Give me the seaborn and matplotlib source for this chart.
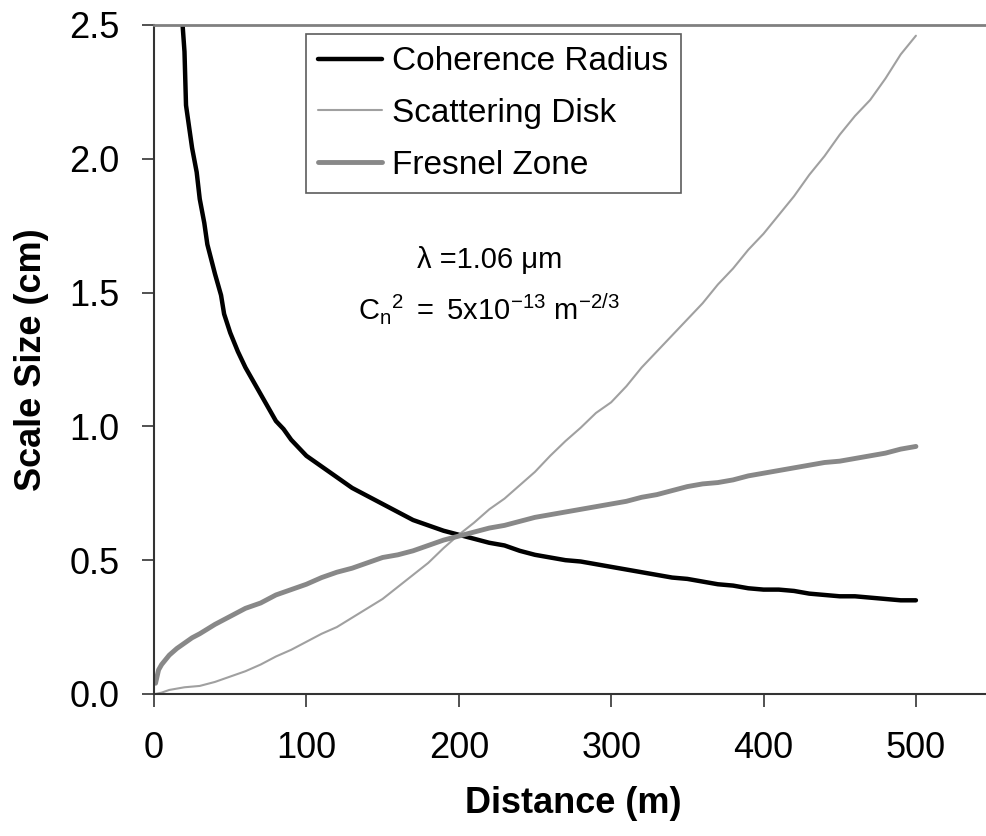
import numpy as np
import pandas as pd
from matplotlib import pyplot as plt
import seaborn as sns

# Coherence radius (cm) vs distance (m)
coh_dist = [18.5, 20, 21, 25, 28, 30, 33, 35, 40, 44, 46, 50, 55, 60, 70, 80, 85, 90, 95,
            100, 105, 110, 120, 130, 140, 150, 160, 170, 175, 180, 190, 200, 210, 220,
            230, 240, 250, 260, 270, 280, 290, 300, 310, 320, 330, 340, 350, 360, 370,
            380, 390, 400, 410, 420, 430, 440, 450, 460, 470, 480, 490, 500]
coh_size = [2.52, 2.40, 2.20, 2.04, 1.95, 1.85, 1.76, 1.68, 1.57, 1.49, 1.42, 1.35, 1.28,
            1.22, 1.12, 1.02, 0.99, 0.95, 0.92, 0.89, 0.87, 0.85, 0.81, 0.77, 0.74, 0.71,
            0.68, 0.65, 0.64, 0.63, 0.61, 0.595, 0.58, 0.565, 0.555, 0.535, 0.52, 0.51,
            0.50, 0.495, 0.485, 0.475, 0.465, 0.455, 0.445, 0.435, 0.43, 0.42, 0.41,
            0.405, 0.395, 0.39, 0.39, 0.385, 0.375, 0.37, 0.365, 0.365, 0.36, 0.355,
            0.35, 0.35]

# Scattering disk
sc_dist = [1, 5, 10, 15, 20, 30, 40, 50, 60, 70, 80, 90, 100, 110, 120, 130, 140, 150,
           160, 170, 180, 190, 200, 210, 220, 230, 240, 250, 260, 270, 280, 290, 300,
           310, 320, 330, 340, 350, 360, 370, 380, 390, 400, 410, 420, 430, 440, 450,
           460, 470, 480, 490, 500]
sc_size = [0.0, 0.005, 0.015, 0.02, 0.025, 0.03, 0.045, 0.065, 0.085, 0.11, 0.14, 0.165,
           0.195, 0.225, 0.25, 0.285, 0.32, 0.355, 0.40, 0.445, 0.49, 0.545, 0.595, 0.64,
           0.69, 0.73, 0.78, 0.83, 0.89, 0.945, 0.995, 1.05, 1.09, 1.15, 1.22, 1.28, 1.34,
           1.40, 1.46, 1.53, 1.59, 1.66, 1.72, 1.79, 1.86, 1.94, 2.01, 2.09, 2.16, 2.22,
           2.30, 2.39, 2.46]

# Fresnel zone
fr_dist = [1, 3, 5, 10, 15, 20, 25, 30, 40, 50, 60, 70, 80, 90, 100, 110, 120, 130, 140,
           150, 160, 170, 180, 190, 200, 210, 220, 230, 240, 250, 260, 270, 280, 290,
           300, 310, 320, 330, 340, 350, 360, 370, 380, 390, 400, 410, 420, 430, 440,
           450, 460, 470, 480, 490, 500]
fr_size = [0.04, 0.09, 0.11, 0.145, 0.17, 0.19, 0.21, 0.225, 0.26, 0.29, 0.32, 0.34, 0.37,
           0.39, 0.41, 0.435, 0.455, 0.47, 0.49, 0.51, 0.52, 0.535, 0.555, 0.575, 0.59,
           0.605, 0.62, 0.63, 0.645, 0.66, 0.67, 0.68, 0.69, 0.70, 0.71, 0.72, 0.735,
           0.745, 0.76, 0.775, 0.785, 0.79, 0.80, 0.815, 0.825, 0.835, 0.845, 0.855,
           0.865, 0.87, 0.88, 0.89, 0.90, 0.915, 0.925]

x_ticks = [0, 100, 200, 300, 400, 500]
y_ticks = [0.0, 0.5, 1.0, 1.5, 2.0, 2.5]

sns.set_style('ticks')
plt.rcParams['font.family'] = ['Liberation Sans', 'DejaVu Sans']
plt.rcParams['mathtext.fontset'] = 'custom'
plt.rcParams['mathtext.rm'] = 'Liberation Sans'
plt.rcParams['mathtext.it'] = 'Liberation Sans:italic'
plt.rcParams['text.color'] = 'black'
plt.rcParams['axes.labelcolor'] = 'black'
plt.rcParams['xtick.labelcolor'] = 'black'
plt.rcParams['ytick.labelcolor'] = 'black'

fig = plt.figure(figsize=(9.86, 8.36), dpi=100)
ax = fig.add_axes([0.1562, 0.1699, 0.850, 0.8002])

sns.lineplot(x=coh_dist, y=coh_size, ax=ax, color='black', linewidth=3.2,
             label='Coherence Radius', sort=False)
sns.lineplot(x=sc_dist, y=sc_size, ax=ax, color='#a0a0a0', linewidth=1.5,
             label='Scattering Disk', sort=False)
sns.lineplot(x=fr_dist, y=fr_size, ax=ax, color='#888888', linewidth=3.5,
             label='Fresnel Zone', sort=False)

ax.set_xlim(0, 550)
ax.set_ylim(0, 2.5)
ax.set_xticks(x_ticks)
ax.set_yticks(y_ticks)
ax.set_yticklabels([f'{v:.1f}' for v in y_ticks])
ax.tick_params(axis='both', labelsize=26, length=9, width=1.2, color='#333333',
               labelcolor='black')
ax.tick_params(axis='y', pad=16)
ax.tick_params(axis='x', pad=18)

ax.spines['right'].set_visible(False)
ax.spines['top'].set_color('#808080')
ax.spines['top'].set_linewidth(2)
ax.spines['left'].set_color('#333333')
ax.spines['left'].set_linewidth(1.5)
ax.spines['bottom'].set_color('#333333')
ax.spines['bottom'].set_linewidth(1.5)

ax.set_xlabel('Distance (m)', fontsize=26, fontweight='bold', labelpad=14, color='black')
ax.set_ylabel('Scale Size (cm)', fontsize=26, fontweight='bold', labelpad=14, color='black')

leg = ax.legend(loc='upper left', bbox_to_anchor=(0.181, 0.987), borderaxespad=0,
                fontsize=24, frameon=True, fancybox=False, handlelength=1.9,
                handletextpad=0.3, labelspacing=0.62, borderpad=0.38)
leg.get_frame().set_edgecolor('#333333')
leg.get_frame().set_linewidth(1.2)
for t in leg.get_texts():
    t.set_color('black')

ax.text(0.40, 0.648, 'λ =1.06 μm', transform=ax.transAxes, ha='center', va='center',
        fontsize=21, color='black')
ax.text(0.40, 0.575, r'$\mathregular{C_n{}^2\ =\ 5x10^{-13}\ m^{-2/3}}$',
        transform=ax.transAxes, ha='center', va='center', fontsize=21, color='black')

fig.savefig('out.png', dpi=100)
